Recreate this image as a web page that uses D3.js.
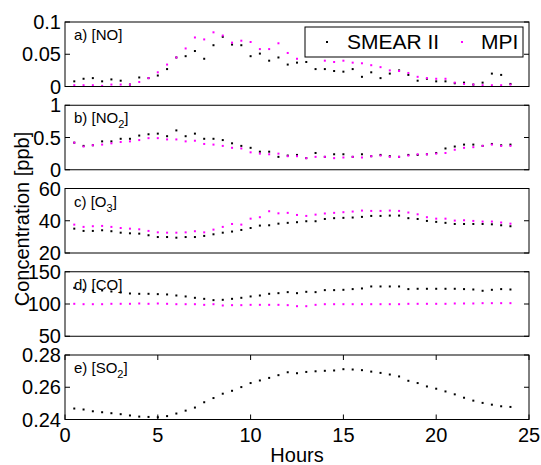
<!DOCTYPE html>
<html><head><meta charset="utf-8">
<script src="https://cdn.jsdelivr.net/npm/d3@7"></script>
<style>body{margin:0;background:#fff}svg{display:block;font-family:"Liberation Sans",Arial,sans-serif}</style>
</head><body>
<svg id="c" width="541" height="465"></svg>
<script>
const hours = d3.range(1, 49).map(i => i * 0.5);

const noSmear = [0.008,0.012,0.013,0.008,0.011,0.009,0.003,0.014,0.013,0.017,0.027,0.045,0.047,0.055,0.043,0.064,0.077,0.065,0.064,0.047,0.051,0.040,0.045,0.034,0.037,0.038,0.027,0.027,0.024,0.023,0.027,0.015,0.022,0.013,0.020,0.025,0.018,0.009,0.012,0.008,0.008,0.005,0.006,0.003,0.006,0.020,0.018,0.004];
const noMpi = [0.002,0.002,0.002,0.001,0.003,0.003,0.003,0.007,0.013,0.022,0.034,0.045,0.059,0.076,0.073,0.084,0.079,0.068,0.071,0.069,0.058,0.058,0.067,0.052,0.043,0.050,0.050,0.040,0.038,0.040,0.037,0.036,0.033,0.030,0.025,0.024,0.021,0.015,0.013,0.012,0.012,0.006,0.004,0.003,0.002,0.002,0.002,0.003];

const no2Smear = [0.42,0.37,0.38,0.44,0.44,0.48,0.48,0.53,0.55,0.56,0.52,0.61,0.52,0.56,0.48,0.48,0.46,0.41,0.37,0.34,0.28,0.28,0.20,0.22,0.23,0.18,0.26,0.20,0.24,0.24,0.20,0.24,0.21,0.23,0.21,0.20,0.23,0.23,0.24,0.26,0.33,0.36,0.39,0.39,0.37,0.40,0.38,0.39];
const no2Mpi = [0.42,0.36,0.38,0.39,0.41,0.43,0.44,0.46,0.49,0.49,0.47,0.47,0.44,0.45,0.40,0.39,0.37,0.34,0.33,0.27,0.25,0.24,0.25,0.21,0.21,0.18,0.20,0.20,0.18,0.19,0.20,0.19,0.21,0.22,0.20,0.20,0.22,0.24,0.24,0.25,0.26,0.31,0.34,0.35,0.37,0.39,0.37,0.37];

const o3Smear = [35.1,33.7,33.7,34.1,33.5,32.6,32.2,32.0,31.0,29.9,29.9,29.5,29.9,29.9,30.6,31.6,32.6,33.3,34.3,35.5,37.0,37.2,38.2,38.7,39.1,39.7,39.7,41.1,41.6,41.8,42.0,42.4,43.0,43.0,43.2,43.2,41.6,41.1,39.9,39.3,38.7,38.0,38.0,38.0,38.0,37.8,37.2,36.6];
const o3Mpi = [37.6,36.2,36.6,36.8,36.2,35.5,35.1,34.7,33.7,32.8,32.6,32.6,32.8,33.5,32.8,34.5,36.2,38.0,37.6,41.3,42.2,45.9,44.6,44.9,43.6,43.0,43.8,44.5,44.9,45.3,45.7,46.3,46.1,46.1,46.3,46.1,45.1,44.0,42.2,41.3,41.3,40.1,40.3,39.9,39.5,39.5,38.9,38.2];

const coSmear = [125.1,122.0,121.0,121.0,119.4,117.9,116.3,115.8,115.8,115.3,114.8,113.2,111.7,109.6,108.0,106.0,106.5,108.0,109.6,111.7,113.2,115.8,116.8,118.4,116.8,118.9,118.4,121.5,121.5,122.0,123.1,124.1,127.2,127.2,127.2,127.2,123.1,123.6,123.6,123.6,123.6,123.6,123.1,122.5,120.5,122.0,123.1,122.5];
const coMpi = [100.3,99.7,99.7,99.7,100.3,100.3,100.3,100.8,100.3,100.8,100.3,99.7,99.7,99.7,98.7,99.7,97.7,98.2,98.2,98.7,98.7,98.7,98.7,98.2,96.6,96.6,98.7,99.7,99.7,99.7,99.7,99.7,99.7,99.7,99.7,99.7,100.3,100.3,100.3,100.3,100.3,100.8,100.8,100.8,101.3,101.3,101.3,101.3];

const so2Smear = [0.2468,0.2462,0.2451,0.2445,0.2439,0.2433,0.2425,0.2418,0.2416,0.2414,0.2421,0.2437,0.2455,0.2474,0.2507,0.2533,0.2560,0.2578,0.2601,0.2626,0.2642,0.2658,0.2675,0.2693,0.2687,0.2695,0.2699,0.2702,0.2704,0.2712,0.2710,0.2706,0.2697,0.2689,0.2679,0.2667,0.2640,0.2626,0.2605,0.2591,0.2574,0.2556,0.2535,0.2517,0.2503,0.2492,0.2482,0.2478];

const xTicks = [0, 5, 10, 15, 20, 25];
const seriesNames = ["SMEAR II", "MPI"];
const seriesColors = ["#000000", "#ff00ff"];

const panels = [
  {label: "a) [NO]", sub: "", domain: [0, 0.1], ticks: [0, 0.05, 0.1], tickLabels: ["0", "0.05", "0.1"], series: [noSmear, noMpi]},
  {label: "b) [NO", sub: "2", domain: [0, 1], ticks: [0, 0.5, 1], tickLabels: ["0", "0.5", "1"], series: [no2Smear, no2Mpi]},
  {label: "c) [O", sub: "3", domain: [20, 60], ticks: [20, 40, 60], tickLabels: ["20", "40", "60"], series: [o3Smear, o3Mpi]},
  {label: "d) [CO]", sub: "", domain: [50, 150], ticks: [50, 100, 150], tickLabels: ["50", "100", "150"], series: [coSmear, coMpi]},
  {label: "e) [SO", sub: "2", domain: [0.24, 0.28], ticks: [0.24, 0.26, 0.28], tickLabels: ["0.24", "0.26", "0.28"], series: [so2Smear]}
];

const svg = d3.select("#c");
const L = 65, R = 529, H = 64.5;
const x = d3.scaleLinear().domain([0, 25]).range([L, R]);
const FS = 20;

panels.forEach((p, i) => {
  const top = 22 + i * 83.25;
  const y = d3.scaleLinear().domain(p.domain).range([top + H, top]);
  const g = svg.append("g");
  // points
  p.series.forEach((s, k) => {
    g.selectAll(null).data(s).enter().append("rect")
      .attr("x", (d, j) => x(hours[j]) - 1)
      .attr("y", d => y(d) - 1)
      .attr("width", 2).attr("height", 2)
      .attr("fill", seriesColors[k]);
  });
  // y ticks inward both sides
  p.ticks.forEach((t, j) => {
    g.append("line").attr("x1", L).attr("x2", L + 5).attr("y1", y(t)).attr("y2", y(t)).attr("stroke", "#000");
    g.append("line").attr("x1", R).attr("x2", R - 5).attr("y1", y(t)).attr("y2", y(t)).attr("stroke", "#000");
    g.append("text").attr("x", L - 4).attr("y", y(t)).attr("dy", "0.36em")
      .attr("text-anchor", "end").attr("font-size", FS).text(p.tickLabels[j]);
  });
  if (i === 4) {
    xTicks.forEach(t => {
      g.append("line").attr("x1", x(t)).attr("x2", x(t)).attr("y1", top + H).attr("y2", top + H - 5).attr("stroke", "#000");
      g.append("line").attr("x1", x(t)).attr("x2", x(t)).attr("y1", top).attr("y2", top + 5).attr("stroke", "#000");
      g.append("text").attr("x", x(t)).attr("y", top + H + 22).attr("text-anchor", "middle")
        .attr("font-size", FS).text(t);
    });
  }
  g.append("rect").attr("x", L).attr("y", top).attr("width", R - L).attr("height", H)
    .attr("fill", "none").attr("stroke", "#000").attr("stroke-width", 1);
  const t = g.append("text").attr("x", L + 9).attr("y", top + 18).attr("font-size", 15).text(p.label);
  if (p.sub) {
    t.append("tspan").attr("font-size", 11).attr("dy", 5).text(p.sub);
    t.append("tspan").attr("dy", -5).text("]");
  }
  if (i === 0) {
    const lg = svg.append("g");
    lg.append("rect").attr("x", 305).attr("y", 27).attr("width", 218).attr("height", 30)
      .attr("fill", "#fff").attr("stroke", "#000").attr("stroke-width", 1);
    const lx = [327, 462], tx = [347, 481];
    seriesNames.forEach((n, k) => {
      lg.append("rect").attr("x", lx[k] - 1).attr("y", 41).attr("width", 2).attr("height", 2).attr("fill", seriesColors[k]);
      lg.append("text").attr("x", tx[k]).attr("y", 49).attr("font-size", 21).text(n);
    });
  }
});

svg.append("text").attr("x", (L + R) / 2).attr("y", 462).attr("text-anchor", "middle")
  .attr("font-size", FS).text("Hours");
svg.append("text").attr("transform", "translate(29,219) rotate(-90)").attr("text-anchor", "middle")
  .attr("font-size", FS).text("Concentration [ppb]");
</script>
</body></html>
